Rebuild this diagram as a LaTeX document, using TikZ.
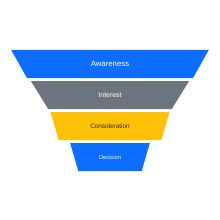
\documentclass[tikz,border=0pt]{standalone}
\usepackage{fontspec}
\setmainfont{Liberation Sans}
\usepackage{tikz}
\usetikzlibrary{positioning,shapes.geometric}
\definecolor{blue}{HTML}{0D6EFD}
\definecolor{slate}{HTML}{6C757D}
\definecolor{amber}{HTML}{FFC107}
\definecolor{ink}{HTML}{3A3000}

\begin{document}
\begin{tikzpicture}[x=1pt,y=1pt,
      stage/.style={trapezium,shape border rotate=180,trapezium left angle=56,trapezium right angle=56,
        trapezium stretches=true,minimum height=28.2pt,inner sep=0pt,text=white},
      node distance=2.4pt]
      \useasboundingbox (0,0) rectangle (220,220);
      \node[stage,fill=blue,minimum width=198pt,font=\fontsize{7.8}{9}\selectfont] (awareness) at (110,155.9) {Awareness};
      \node[stage,fill=slate,minimum width=158.6pt,font=\fontsize{6.9}{8}\selectfont,below=of awareness] (interest) {Interest};
      \node[stage,fill=amber,minimum width=119.2pt,text=ink,font=\fontsize{6.4}{8}\selectfont,below=of interest] (consideration) {Consideration};
      \node[stage,fill=blue,minimum width=79.8pt,font=\fontsize{5.7}{7}\selectfont,below=of consideration] (decision) {Decision};
    \end{tikzpicture}
\end{document}
